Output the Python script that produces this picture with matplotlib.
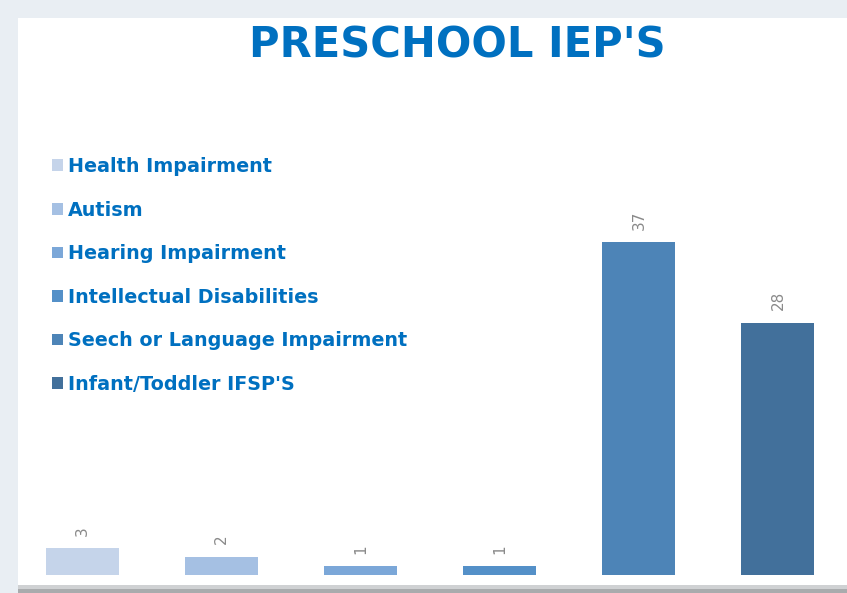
import matplotlib.pyplot as plt
from matplotlib.patches import Rectangle

# ---- data
categories = ["Health Impairment", "Autism", "Hearing Impairment",
              "Intellectual Disabilities", "Seech or Language Impairment",
              "Infant/Toddler IFSP'S"]
values = [3, 2, 1, 1, 37, 28]
colors = ["#c5d4ea", "#a5c0e3", "#7ba7d8", "#5490c8", "#4d84b7", "#42709b"]

W, H = 847, 593
fig = plt.figure(figsize=(W / 100, H / 100), dpi=100)
fig.patch.set_facecolor("#e9eef3")

# ---- frame / shadow
fig.patches.append(Rectangle((18 / W, 0), 1 - 18 / W, 10 / H, transform=fig.transFigure,
                             facecolor="#a9abad", edgecolor="none", zorder=0))
fig.patches.append(Rectangle((18 / W, 4 / H), 1 - 18 / W, 6 / H, transform=fig.transFigure,
                             facecolor="#cfd1d3", edgecolor="none", zorder=0))
fig.patches.append(Rectangle((18 / W, 8 / H), 1 - 18 / W, (585 - 18) / H, transform=fig.transFigure,
                             facecolor="white", edgecolor="none", zorder=0))

ax = fig.add_axes([20 / W, 18 / H, 820.5 / W, 405 / H])
ax.set_zorder(2)
ax.set_facecolor("none")
x = range(len(values))
bars = ax.bar(x, values, width=0.525, color=colors, label=categories)
ax.set_xlim(-0.45, 5.45)
ax.set_ylim(0, 45)
for s in ax.spines.values():
    s.set_visible(False)
ax.set_xticks([])
ax.set_yticks([])

for b, v in zip(bars, values):
    ax.annotate(str(v), (b.get_x() + b.get_width() / 2, v), xytext=(0, 9),
                textcoords="offset points", rotation=90, ha="center", va="bottom",
                fontsize=11, color="#8a8a8a")

fig.text(457 / W, 1 - 46 / H, "PRESCHOOL IEP'S", ha="center", va="center",
         fontsize=30, fontweight="bold", color="#0070c0", family="DejaVu Sans")

leg = fig.legend(handles=bars, labels=categories, loc="upper left",
                 bbox_to_anchor=(52 / W, 1 - 157 / H), frameon=False,
                 prop={"weight": "bold", "size": 13.8}, labelcolor="#0070c0",
                 handlelength=0.55, handleheight=0.55, handletextpad=0.3,
                 labelspacing=1.28, borderpad=0, borderaxespad=0)
leg.set_zorder(3)

fig.savefig("out.png", dpi=100, facecolor=fig.get_facecolor())
